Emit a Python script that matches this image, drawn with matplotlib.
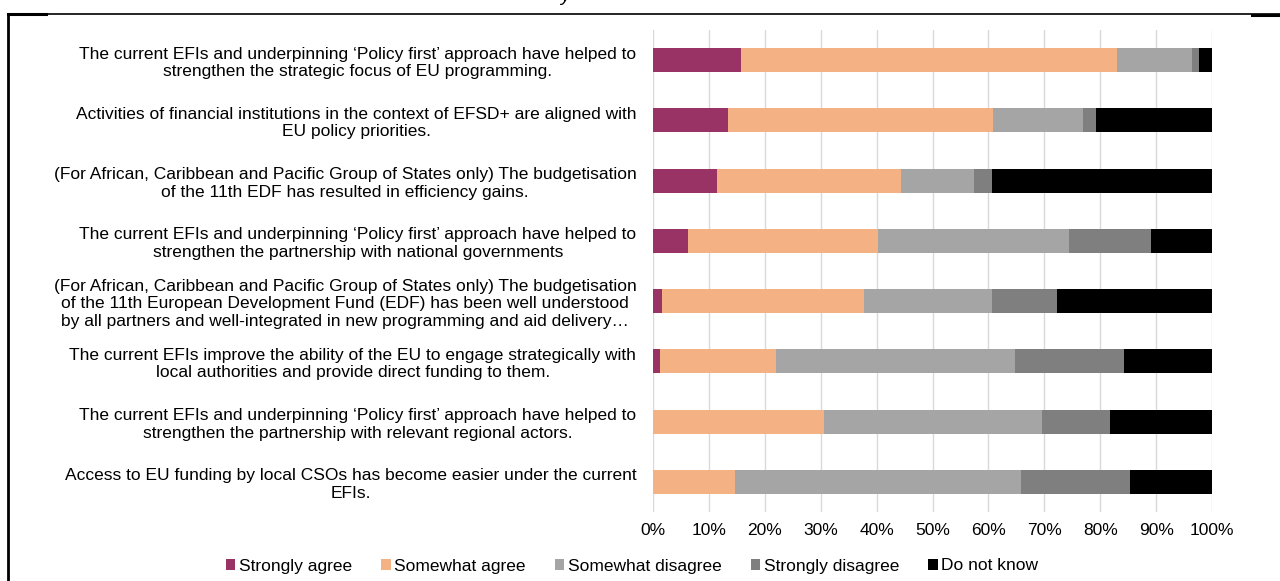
import matplotlib
matplotlib.use("Agg")
import matplotlib.pyplot as plt
import numpy as np

categories = [
    "The current EFIs and underpinning \u2018Policy first\u2019 approach have helped to\nstrengthen the strategic focus of EU programming.",
    "Activities of financial institutions in the context of EFSD+ are aligned with\nEU policy priorities.",
    "(For African, Caribbean and Pacific Group of States only) The budgetisation\nof the 11th EDF has resulted in efficiency gains.",
    "The current EFIs and underpinning \u2018Policy first\u2019 approach have helped to\nstrengthen the partnership with national governments",
    "(For African, Caribbean and Pacific Group of States only) The budgetisation\nof the 11th European Development Fund (EDF) has been well understood\nby all partners and well-integrated in new programming and aid delivery\u2026",
    "The current EFIs improve the ability of the EU to engage strategically with\nlocal authorities and provide direct funding to them.",
    "The current EFIs and underpinning \u2018Policy first\u2019 approach have helped to\nstrengthen the partnership with relevant regional actors.",
    "Access to EU funding by local CSOs has become easier under the current\nEFIs.",
]

series_names = ["Strongly agree", "Somewhat agree", "Somewhat disagree", "Strongly disagree", "Do not know"]
strongly_agree    = [15.8, 13.4, 11.5,  6.2,  1.6,  1.2,  0.0,  0.0]
somewhat_agree    = [67.2, 47.5, 32.8, 34.0, 36.1, 20.8, 30.6, 14.6]
somewhat_disagree = [13.4, 16.0, 13.2, 34.2, 23.0, 42.8, 39.0, 51.3]
strongly_disagree = [ 1.2,  2.4,  3.2, 14.6, 11.5, 19.4, 12.1, 19.5]
do_not_know       = [ 2.4, 20.7, 39.3, 11.0, 27.8, 15.8, 18.3, 14.6]
tick_values = [0, 10, 20, 30, 40, 50, 60, 70, 80, 90, 100]
tick_labels = ["0%", "10%", "20%", "30%", "40%", "50%", "60%", "70%", "80%", "90%", "100%"]
colors = ["#993366", "#F4B183", "#A5A5A5", "#7F7F7F", "#000000"]

plt.rcParams['font.family'] = ['Liberation Sans', 'DejaVu Sans']
FS = 12.5

fig = plt.figure(figsize=(12.8, 5.81), dpi=100)
ax = fig.add_axes([653/1280, 1 - 512/581, (1212 - 653)/1280, (512 - 30)/581])

data = [strongly_agree, somewhat_agree, somewhat_disagree, strongly_disagree, do_not_know]
y = np.arange(len(categories))
left = np.zeros(len(categories))
for name, vals, c in zip(series_names, data, colors):
    vals = np.array(vals)
    ax.barh(y, vals, left=left, height=0.4, color=c, label=name, zorder=3)
    left += vals

ax.set_xlim(0, 100)
ax.set_ylim(len(categories) - 0.5, -0.5)
ax.set_xticks(tick_values)
ax.set_xticklabels(tick_labels, fontsize=FS, color="#000000")
ax.set_yticks(y)
ax.set_yticklabels(categories, fontsize=FS, multialignment="center", linespacing=1.2)
ax.tick_params(axis="both", length=0)
ax.tick_params(axis="y", pad=12)
ax.tick_params(axis="x", pad=8)
ax.grid(axis="x", color="#D9D9D9", linewidth=1, zorder=0)
for s in ax.spines.values():
    s.set_visible(False)

leg = fig.legend(loc="center", bbox_to_anchor=(632/1280, 1 - 566/581), ncol=5, frameon=False,
                 fontsize=FS, handlelength=0.55, handleheight=0.55, handletextpad=0.2,
                 columnspacing=1.68)

# frame lines
fig.add_artist(plt.Line2D([7.5/1280, 7.5/1280], [0, 1 - 13.5/581], color="black", lw=2, transform=fig.transFigure))
fig.add_artist(plt.Line2D([7.5/1280, 1.0], [1 - 13.5/581, 1 - 13.5/581], color="black", lw=1.2, transform=fig.transFigure))
fig.add_artist(plt.Line2D([7.5/1280, 46/1280], [1 - 14/581, 1 - 14/581], color="black", lw=2.2, transform=fig.transFigure))
fig.add_artist(plt.Line2D([1252/1280, 1.0], [1 - 14.5/581, 1 - 14.5/581], color="black", lw=2.2, transform=fig.transFigure))
fig.text(565/1280, 1 - 1/581, "y", fontsize=14, style="italic", ha="center", va="baseline")

fig.savefig("out.png", dpi=100)
